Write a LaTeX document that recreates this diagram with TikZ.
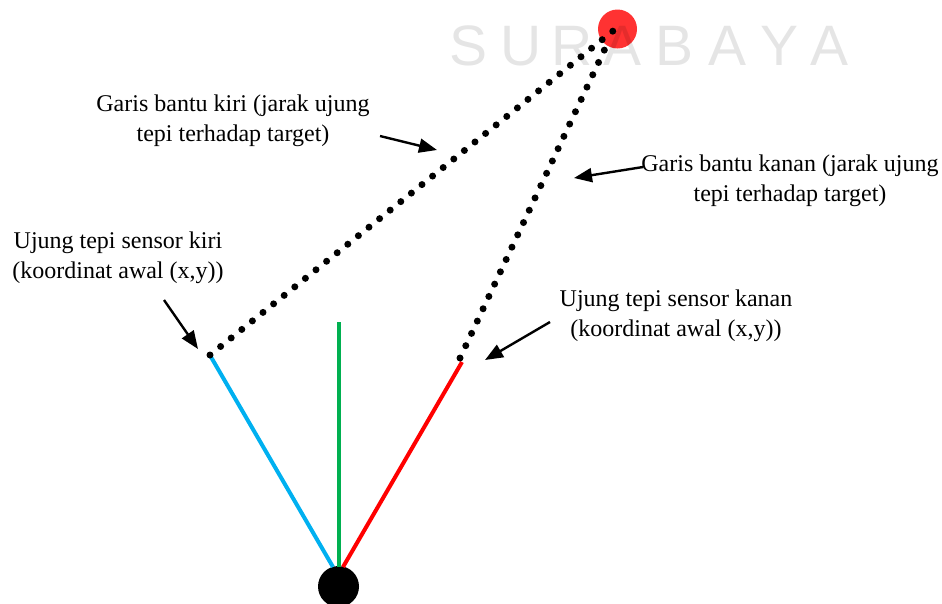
\documentclass[tikz,border=0pt]{standalone}
\usepackage{fontspec}
\setmainfont{Liberation Serif}
\newfontfamily\wmfont{Liberation Sans}
\usetikzlibrary{arrows.meta}
\begin{document}
\begin{tikzpicture}[x=1pt,y=-1pt,
  lbl/.style={font=\fontsize{24}{30}\selectfont, align=center, inner sep=0pt},
  ptr/.style={line width=2.4pt, -{Triangle[length=18pt,width=14pt]}},
  dotline/.style={line width=7pt, line cap=round, dash pattern=on 0pt off 13.6pt},
  ray/.style={line width=4pt},
  wm/.style={font=\wmfont\fontsize{57}{57}\selectfont, text=black, text opacity=0.1, inner sep=0pt}]
\useasboundingbox (0,0) rectangle (942,603);
% robot and target
\node[circle, fill=black, minimum size=41pt, inner sep=0pt] (robot) at (338.5,586.5) {};
\node[circle, fill={rgb,255:red,255;green,50;blue,50}, minimum size=39pt, inner sep=0pt] (target) at (617.5,29) {};
% sensor edges
\coordinate (leftend) at (211,357);
\coordinate (rightend) at (462,362);
\coordinate (midend) at (338.5,322);
\coordinate (bl) at (333,567);
\coordinate (bm) at (338.5,567);
\coordinate (br) at (343,567);
\draw[ray, color={rgb,255:red,0;green,176;blue,240}] (bl) -- (leftend);
\draw[ray, color={rgb,255:red,0;green,176;blue,80}] (bm) -- (midend);
\draw[ray, color=red] (br) -- (rightend);
% dotted helper lines
\coordinate (tl) at (613,31);
\coordinate (tr) at (610,38);
\coordinate (ldot) at (210,355);
\coordinate (rdot) at (460,358);
\draw[dotline] (ldot) -- (tl);
\draw[dotline] (rdot) -- (tr);
% labels
\node[lbl] (lkiri) at (233,121) {Garis bantu kiri (jarak ujung\\tepi terhadap target)};
\node[lbl] (lkanan) at (790,181) {Garis bantu kanan (jarak ujung\\tepi terhadap target)};
\node[lbl] (skiri) at (118,258) {Ujung tepi sensor kiri\\(koordinat awal (x,y))};
\node[lbl] (skanan) at (676,316) {Ujung tepi sensor kanan\\(koordinat awal (x,y))};
% pointers
\coordinate (a1s) at (380,136);
\coordinate (a1e) at (437,150);
\draw[ptr] (a1s) -- (a1e);
\coordinate (a2s) at (643,167);
\coordinate (a2e) at (574,178);
\draw[ptr] (a2s) -- (a2e);
\coordinate (a3s) at (164,300);
\coordinate (a3e) at (198,349);
\draw[ptr] (a3s) -- (a3e);
\coordinate (a4s) at (550,322);
\coordinate (a4e) at (485,360);
\draw[ptr] (a4s) -- (a4e);
% watermark
\foreach \ch/\xx [count=\i] in {S/469,U/521,R/572,A/623,B/675,A/727,Y/779,A/829}
  \node[wm] (wm\i) at (\xx,46) {\ch};
\end{tikzpicture}
\end{document}
